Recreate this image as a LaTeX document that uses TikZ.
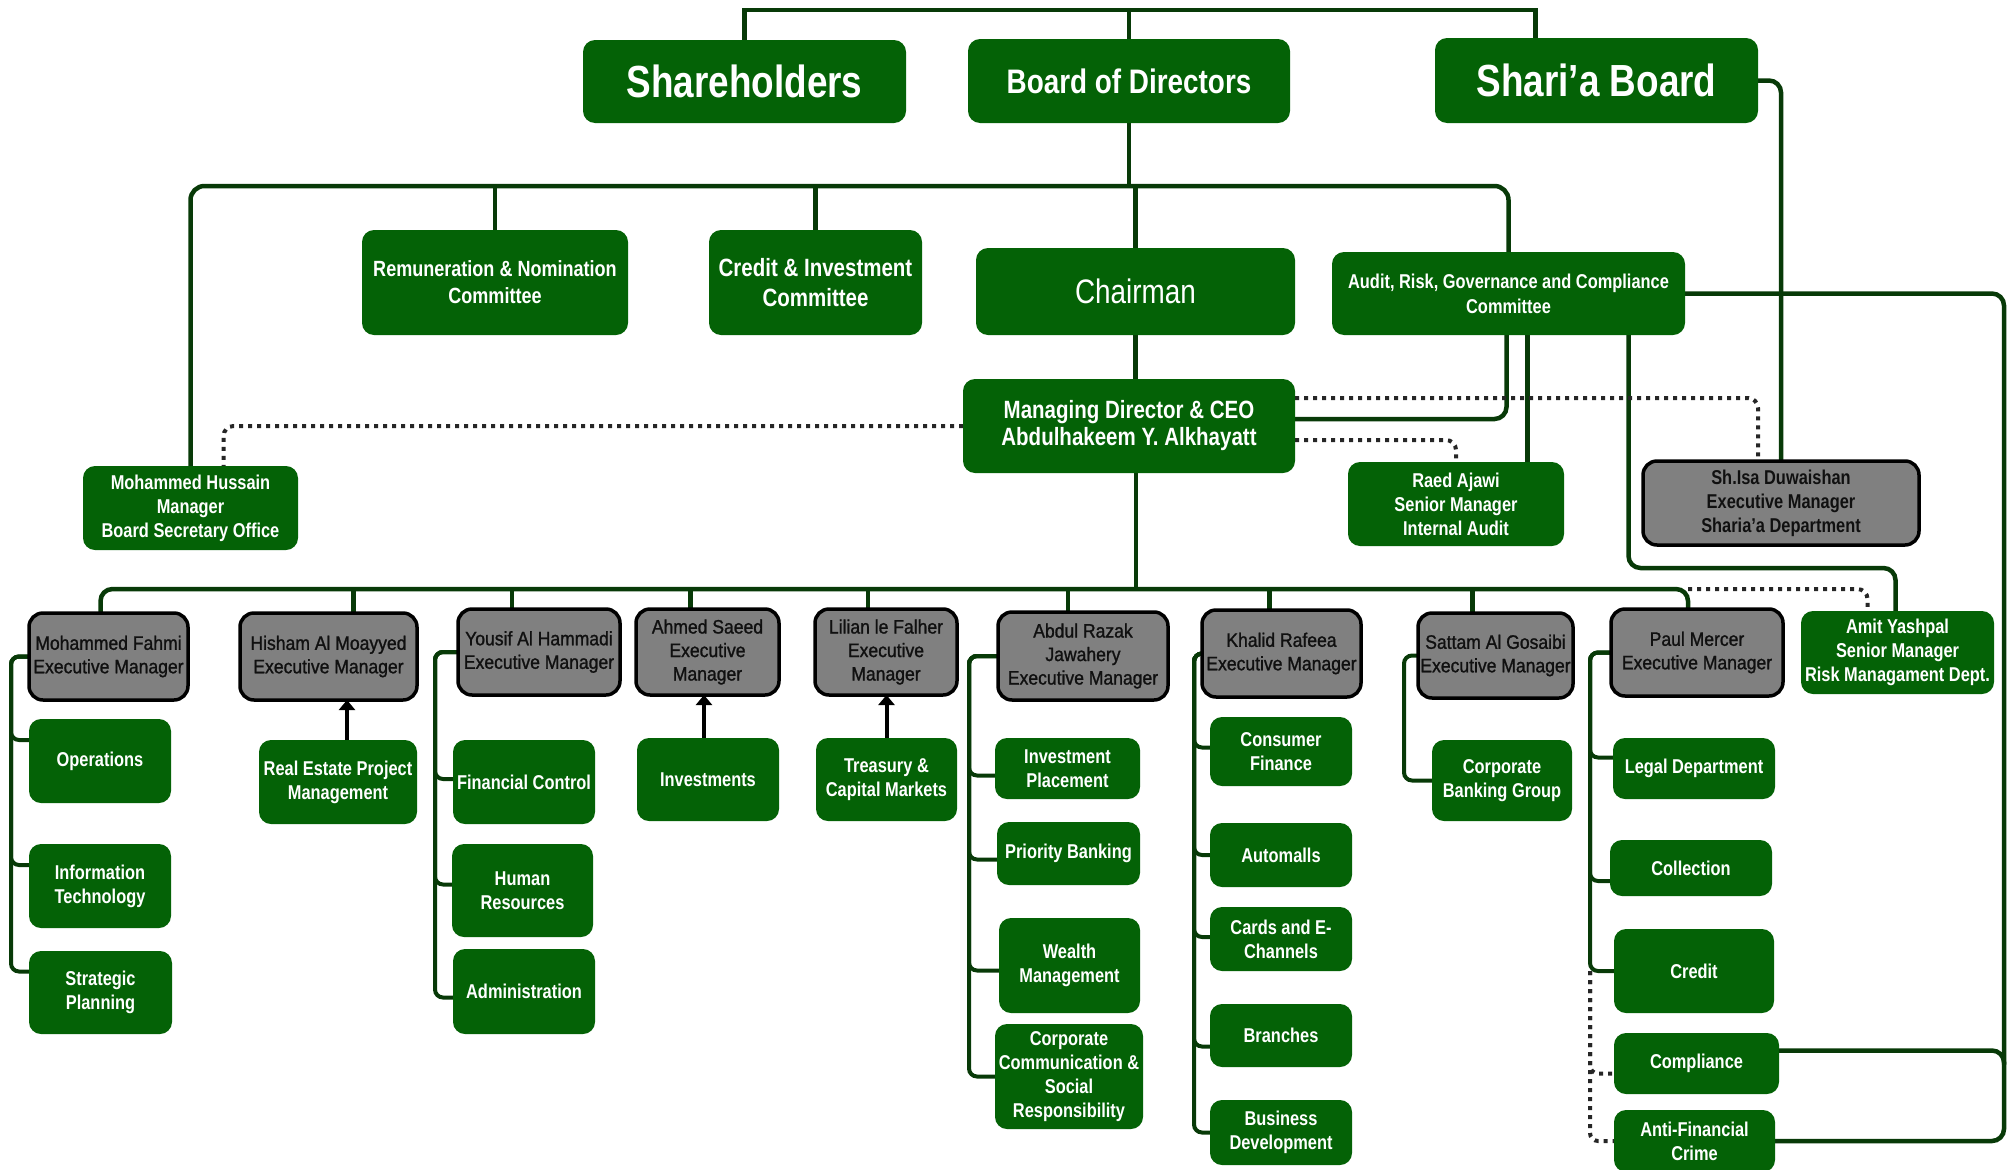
\documentclass[tikz,border=0pt]{standalone}
\usepackage{fontspec}
\setmainfont{Liberation Sans}[FakeStretch=0.82]
\newfontfamily\grayfont{Liberation Sans}[FakeStretch=0.9,FakeBold=1.2]
\usetikzlibrary{calc,arrows.meta}
\definecolor{boxgreen}{RGB}{4,98,6}
\definecolor{linegreen}{RGB}{8,58,8}
\definecolor{boxgray}{RGB}{128,128,128}
\definecolor{graytext}{RGB}{16,16,16}
\pgfdeclarelayer{bg}
\pgfsetlayers{bg,main}
\newcommand\mkbox[7]{\node[#2, minimum width={(#5)-(#3)}, minimum height={(#6)-(#4)}] (#1) at ({((#3)+(#5))/2},{((#4)+(#6))/2}) {#7};}
\newcommand\branchto[4]{% parent, child, trunk coordinate, y offset at child
  \coordinate (tmpc) at ($(#2.west)+(0,#4)$);
  \draw[bconn] (#1.west) -- (#1.west -| #3) -- (#3 |- tmpc) -- (tmpc);}
\newcommand\dropto[2]{% node, x offset
  \coordinate (tmpd) at ($(#1.north)+(#2,0)$);
  \draw[conn] (tmpd) -- (tmpd |- lb);}
\tikzset{
  gbox/.style={fill=boxgreen, rounded corners=12pt, inner sep=0pt, outer sep=0pt,
    text=white, align=center, font=\bfseries\fontsize{20}{24}\selectfont},
  ybox/.style={fill=boxgray, draw=black, line width=3.5pt, rounded corners=14pt,
    inner sep=0pt, outer sep=0pt, text=graytext, align=center,
    font=\grayfont\fontsize{19.5}{23.5}\selectfont},
  conn/.style={draw=linegreen, line width=4.5pt, rounded corners=12pt},
  bconn/.style={draw=linegreen, line width=4pt, rounded corners=8pt},
  dotline/.style={draw=black!85, line width=4pt, dash pattern=on 4pt off 5pt, rounded corners=10pt},
  arr/.style={draw=black, line width=4pt, -{Triangle[length=10pt,width=16pt]}},
}
\begin{document}
\begin{tikzpicture}[x=1pt,y=-1pt]
\useasboundingbox (0,0) rectangle (2011,1170);
% top level
\mkbox{sh}{gbox,font=\bfseries\fontsize{45}{50}\selectfont}{583}{40}{906}{123}{Shareholders}
\mkbox{bod}{gbox,font=\bfseries\fontsize{34}{40}\selectfont}{968}{39}{1290}{123}{Board of Directors}
\mkbox{sb}{gbox,font=\bfseries\fontsize{45}{50}\selectfont}{1435}{38}{1758}{123}{Shari’a Board}
% committees
\mkbox{rem}{gbox,font=\bfseries\fontsize{22}{27}\selectfont}{362}{230}{628}{335}{Remuneration \& Nomination\\Committee}
\mkbox{cic}{gbox,font=\bfseries\fontsize{25}{30}\selectfont}{709}{230}{922}{335}{Credit \& Investment\\Committee}
\mkbox{ch}{gbox,font=\mdseries\fontsize{34}{40}\selectfont}{976}{248}{1295}{335}{Chairman}
\mkbox{aud}{gbox,font=\bfseries\fontsize{20}{25}\selectfont}{1332}{252}{1685}{335}{Audit, Risk, Governance and Compliance\\Committee}
\mkbox{md}{gbox,font=\bfseries\fontsize{25}{27}\selectfont}{963}{379}{1295}{473}{Managing Director \& CEO\\Abdulhakeem Y. Alkhayatt}
\mkbox{hus}{gbox}{83}{466}{298}{550}{Mohammed Hussain\\Manager\\Board Secretary Office}
\mkbox{raed}{gbox}{1348}{462}{1564}{546}{Raed Ajawi\\Senior Manager\\Internal Audit}
\mkbox{isa}{ybox,font=\bfseries\fontsize{20}{24}\selectfont}{1643}{461}{1919}{545}{Sh.Isa Duwaishan\\Executive Manager\\Sharia’a Department}
% executive managers
\mkbox{fah}{ybox}{29}{613}{188}{700}{Mohammed Fahmi\\Executive Manager}
\mkbox{his}{ybox}{240}{613}{417}{700}{Hisham Al Moayyed\\Executive Manager}
\mkbox{yus}{ybox}{458}{609}{620}{695}{Yousif Al Hammadi\\Executive Manager}
\mkbox{ahm}{ybox}{636}{609}{779}{695}{Ahmed Saeed\\Executive\\Manager}
\mkbox{lil}{ybox}{815}{609}{957}{695}{Lilian le Falher\\Executive\\Manager}
\mkbox{abd}{ybox}{998}{612}{1168}{700}{Abdul Razak\\Jawahery\\Executive Manager}
\mkbox{kha}{ybox}{1202}{610}{1361}{697}{Khalid Rafeea\\Executive Manager}
\mkbox{sat}{ybox}{1418}{613}{1573}{698}{Sattam Al Gosaibi\\Executive Manager}
\mkbox{pm}{ybox}{1611}{609}{1783}{696}{Paul Mercer\\Executive Manager}
\mkbox{amit}{gbox}{1801}{611}{1994}{694}{Amit Yashpal\\Senior Manager\\Risk Managament Dept.}
% departments
\mkbox{ops}{gbox}{29}{719}{171}{803}{Operations}
\mkbox{it}{gbox}{29}{844}{171}{928}{Information\\Technology}
\mkbox{sp}{gbox}{29}{951}{172}{1034}{Strategic\\Planning}
\mkbox{rep}{gbox}{259}{740}{417}{824}{Real Estate Project\\Management}
\mkbox{fc}{gbox}{453}{740}{595}{824}{Financial Control}
\mkbox{hr}{gbox}{452}{844}{593}{937}{Human\\Resources}
\mkbox{adm}{gbox}{453}{949}{595}{1034}{Administration}
\mkbox{inv}{gbox}{637}{738}{779}{821}{Investments}
\mkbox{tcm}{gbox}{816}{738}{957}{821}{Treasury \&\\Capital Markets}
\mkbox{ip}{gbox}{995}{738}{1140}{799}{Investment\\Placement}
\mkbox{pb}{gbox}{997}{822}{1140}{885}{Priority Banking}
\mkbox{wm}{gbox}{999}{918}{1140}{1013}{Wealth\\Management}
\mkbox{cc}{gbox}{995}{1024}{1143}{1129}{Corporate\\Communication \&\\Social\\Responsibility}
\mkbox{cf}{gbox}{1210}{717}{1352}{786}{Consumer\\Finance}
\mkbox{auto}{gbox}{1210}{823}{1352}{887}{Automalls}
\mkbox{ce}{gbox}{1210}{907}{1352}{971}{Cards and E-\\Channels}
\mkbox{br}{gbox}{1210}{1004}{1352}{1067}{Branches}
\mkbox{bd}{gbox}{1210}{1100}{1352}{1165}{Business\\Development}
\mkbox{cbg}{gbox}{1432}{740}{1572}{821}{Corporate\\Banking Group}
\mkbox{leg}{gbox}{1613}{738}{1775}{799}{Legal Department}
\mkbox{col}{gbox}{1610}{840}{1772}{896}{Collection}
\mkbox{cr}{gbox}{1614}{929}{1774}{1013}{Credit}
\mkbox{comp}{gbox}{1614}{1033}{1779}{1094}{Compliance}
\mkbox{afc}{gbox}{1614}{1110}{1775}{1172}{Anti-Financial\\Crime}

\begin{pgfonlayer}{bg}
% top bus
\coordinate (tb) at (0,10);
\coordinate (sbd) at ($(sb.north)+(-61,0)$);
\draw[conn,rounded corners=0pt] (sh.north) -- (sh.north |- tb) -- (sbd |- tb) -- (sbd);
\draw[conn] (bod.north) -- (bod.north |- tb);
% committee bus
\coordinate (mb) at (0,186);
\draw[conn,rounded corners=14pt] (hus.north) -- (hus.north |- mb) -- (aud.north |- mb) -- (aud.north);
\draw[conn] (bod.south) -- (bod.south |- mb);
\draw[conn] (rem.north) -- (rem.north |- mb);
\draw[conn] (cic.north) -- (cic.north |- mb);
\draw[conn] (ch.north) -- (ch.north |- mb);
\draw[conn] (ch.south) -- (ch.south |- md.north);
% Shari'a board to Sharia dept
\draw[conn] (sb.east) -| (isa.north);
% audit committee links
\coordinate (amj) at ($(aud.south)+(-2,0)$);
\coordinate (mdr) at ($(md.east)+(0,-7)$);
\draw[conn] (amj) -- (amj |- mdr) -- (mdr);
\coordinate (arj) at ($(aud.south)+(19,0)$);
\draw[conn] (arj) -- (arj |- raed.north);
\coordinate (aaj) at ($(aud.south)+(120,0)$);
\coordinate (abj) at ($(amit.north)+(-2,0)$);
\coordinate (ayj) at (0,568);
\draw[conn] (aaj) -- (aaj |- ayj) -- (abj |- ayj) -- (abj);
\coordinate (rx) at (2004,0);
\coordinate (ce1) at ($(comp.east)+(0,-13)$);
\draw[conn] (aud.east) -- (aud.east -| rx) -- (rx |- afc.east) -- (afc.east);
\draw[conn] (ce1) -- (ce1 -| rx) -- ($(ce1 -| rx)+(0,14)$);
% dotted links from MD
\draw[dotline] ($(md.east)+(0,-28)$) -| ($(isa.north)+(-23,0)$);
\draw[dotline] ($(md.east)+(0,14)$) -| (raed.north);
\draw[dotline] (md.west) -| ($(hus.north)+(33,0)$);
% executive bus
\coordinate (lb) at (0,589);
\coordinate (mdd) at ($(md.south)+(7,0)$);
\draw[conn] (mdd) -- (mdd |- lb);
\coordinate (fd) at ($(fah.north)+(-8,0)$);
\coordinate (pd) at ($(pm.north)+(-9,0)$);
\draw[conn] (fd) -- (fd |- lb) -- (pd |- lb) -- (pd);
\dropto{his}{25}
\dropto{yus}{-27}
\dropto{ahm}{-17}
\dropto{lil}{-18}
\dropto{abd}{-15}
\dropto{kha}{-12}
\dropto{sat}{-23}
\coordinate (amd) at ($(amit.north)+(-30,0)$);
\draw[dotline] (pd |- lb) -- (amd |- lb) -- (amd);
% department brackets
\coordinate (fx) at (11,0);
\branchto{fah}{ops}{fx}{-21}
\branchto{fah}{it}{fx}{-21}
\branchto{fah}{sp}{fx}{-21}
\coordinate (yx) at (435,0);
\branchto{yus}{fc}{yx}{-3}
\branchto{yus}{hr}{yx}{-6}
\branchto{yus}{adm}{yx}{6}
\coordinate (ax) at (969,0);
\branchto{abd}{ip}{ax}{7}
\branchto{abd}{pb}{ax}{6}
\branchto{abd}{wm}{ax}{5}
\branchto{abd}{cc}{ax}{0}
\coordinate (kx) at (1194,0);
\branchto{kha}{cf}{kx}{-4}
\branchto{kha}{auto}{kx}{0}
\branchto{kha}{ce}{kx}{-2}
\branchto{kha}{br}{kx}{11}
\branchto{kha}{bd}{kx}{0}
\coordinate (sx) at (1404,0);
\branchto{sat}{cbg}{sx}{0}
\coordinate (px) at (1590,0);
\branchto{pm}{leg}{px}{-11}
\branchto{pm}{col}{px}{13}
\branchto{pm}{cr}{px}{0}
\coordinate (cmpw) at ($(comp.west)+(0,10)$);
\draw[dotline,rounded corners=8pt] (px |- cr.west) -- (px |- afc.west) -- (afc.west);
\draw[dotline,rounded corners=8pt] (px |- cr.west) -- (px |- cmpw) -- (cmpw);
\end{pgfonlayer}
% arrows up to executive managers
\coordinate (rpa) at ($(rep.north)+(9,0)$);
\draw[arr] (rpa) -- (rpa |- his.south);
\coordinate (iva) at ($(inv.north)+(-4,0)$);
\draw[arr] (iva) -- (iva |- ahm.south);
\draw[arr] (tcm.north) -- (tcm.north |- lil.south);
\end{tikzpicture}
\end{document}
